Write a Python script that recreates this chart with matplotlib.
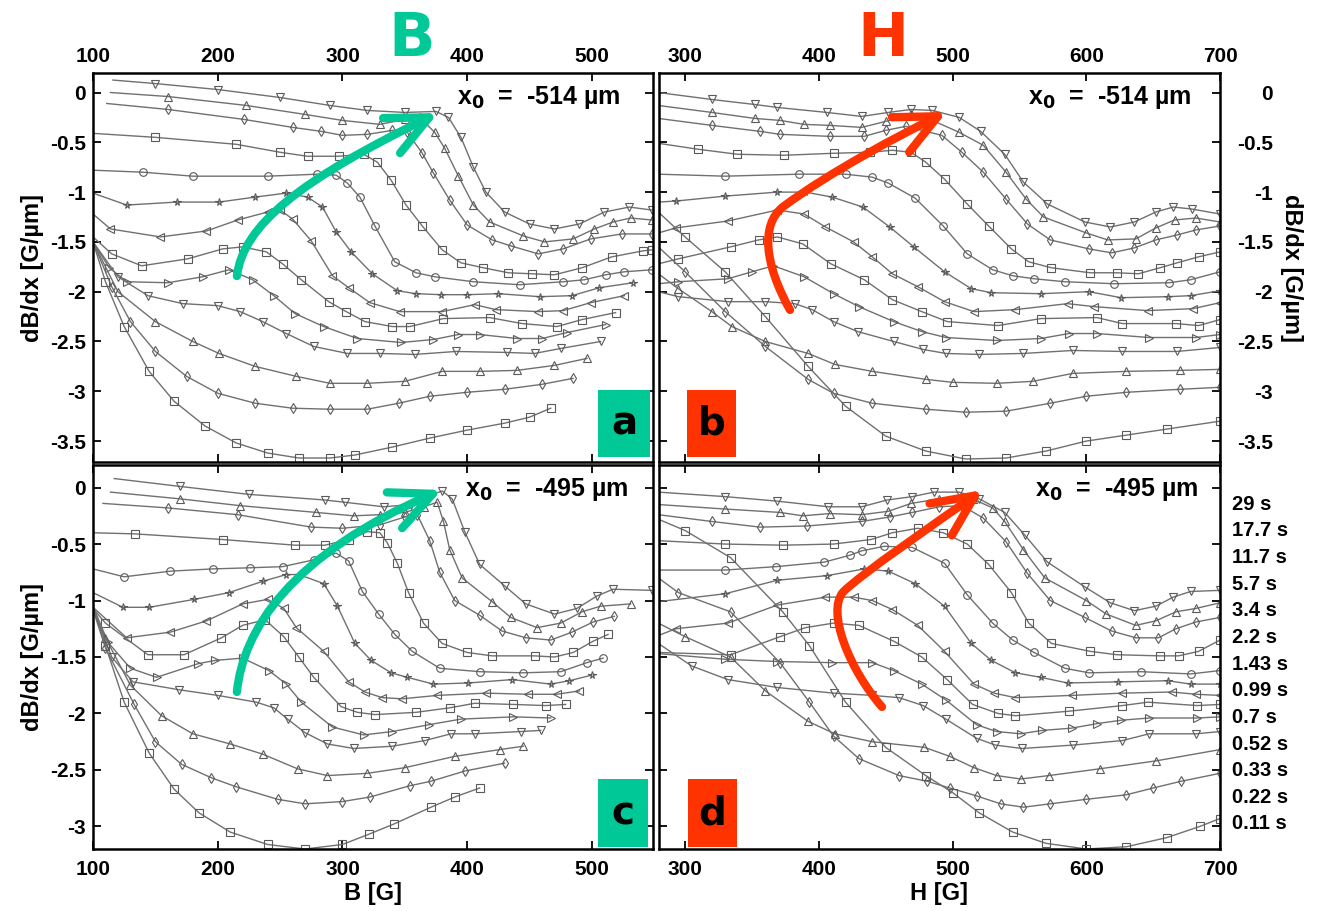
import matplotlib
matplotlib.use("Agg")
import matplotlib.pyplot as plt
from matplotlib.patches import FancyArrowPatch, Rectangle
from matplotlib.path import Path

plt.rcParams['font.family'] = ['Liberation Sans', 'DejaVu Sans']
plt.rcParams['font.weight'] = 'bold'
plt.rcParams['mathtext.default'] = 'bf'

# relaxation times, one curve per time (top -> bottom)
times = ['29 s', '17.7 s', '11.7 s', '5.7 s', '3.4 s', '2.2 s', '1.43 s',
         '0.99 s', '0.7 s', '0.52 s', '0.33 s', '0.22 s', '0.11 s']
symbols = ['v', '^', 'd', 's', 'o', '*', '<', 's', '>', 'v', '^', 'd', 's']

# (a) dB/dx vs B, x0 = -514 um
a_x = [
    [116, 150, 200, 250, 290, 320, 350, 375, 385, 395, 405, 415, 430, 450, 470, 490, 510, 530, 548],
    [114, 160, 223, 270, 300, 330, 350, 362, 374, 382, 393, 405, 418, 445, 462, 485, 502, 517, 531, 548],
    [111, 160, 221, 260, 283, 300, 320, 340, 352, 364, 373, 386, 400, 420, 435, 457, 477, 499, 524, 548],
    [100, 150, 215, 250, 272, 297, 317, 328, 339, 351, 364, 380, 395, 413, 433, 452, 470, 492, 516, 541, 548],
    [100, 140, 180, 240, 280, 295, 304, 314, 326, 342, 359, 374, 405, 442, 477, 494, 511, 526, 548],
    [100, 127, 167, 201, 230, 255, 272, 284, 295, 307, 324, 344, 359, 379, 400, 425, 458, 484, 506, 533],
    [100, 114, 154, 191, 216, 240, 250, 260, 275, 292, 305, 322, 346, 380, 406, 423, 457, 477, 499, 526],
    [100, 115, 139, 176, 204, 220, 239, 252, 267, 289, 303, 318, 340, 354, 381, 418, 444, 472, 492, 519],
    [100, 113, 127, 160, 188, 209, 228, 245, 262, 285, 312, 347, 373, 393, 410, 440, 460, 480, 511],
    [100, 120, 144, 172, 200, 218, 236, 255, 277, 304, 330, 358, 391, 432, 454, 475, 507],
    [100, 120, 150, 180, 201, 230, 263, 290, 320, 350, 380, 410, 440, 470, 496],
    [100, 115, 130, 150, 175, 200, 230, 260, 290, 320, 345, 370, 400, 430, 460, 485],
    [100, 110, 125, 145, 165, 190, 215, 240, 265, 290, 310, 340, 370, 400, 430, 450, 467],
]
a_y = [
    [0.125, 0.09, 0.03, -0.05, -0.13, -0.18, -0.2, -0.19, -0.25, -0.45, -0.75, -1.0, -1.2, -1.32, -1.37, -1.32, -1.2, -1.15, -1.18],
    [0.0, -0.04, -0.13, -0.22, -0.28, -0.32, -0.27, -0.25, -0.4, -0.56, -0.84, -1.13, -1.3, -1.44, -1.5, -1.47, -1.37, -1.3, -1.26, -1.28],
    [-0.11, -0.17, -0.27, -0.35, -0.39, -0.43, -0.42, -0.38, -0.4, -0.61, -0.81, -1.08, -1.33, -1.48, -1.54, -1.62, -1.57, -1.47, -1.42, -1.42],
    [-0.41, -0.45, -0.52, -0.6, -0.64, -0.64, -0.62, -0.7, -0.88, -1.13, -1.34, -1.58, -1.71, -1.76, -1.81, -1.82, -1.83, -1.76, -1.65, -1.59, -1.58],
    [-0.78, -0.8, -0.84, -0.84, -0.82, -0.83, -0.91, -1.05, -1.34, -1.7, -1.81, -1.85, -1.9, -1.93, -1.9, -1.88, -1.83, -1.8, -1.78],
    [-1.01, -1.13, -1.1, -1.1, -1.05, -1.01, -1.05, -1.15, -1.4, -1.6, -1.82, -1.99, -2.02, -2.03, -2.03, -2.02, -2.05, -2.04, -1.96, -1.91],
    [-1.22, -1.37, -1.45, -1.39, -1.28, -1.2, -1.18, -1.27, -1.49, -1.84, -1.96, -2.11, -2.2, -2.2, -2.13, -2.18, -2.2, -2.19, -2.11, -2.04],
    [-1.45, -1.62, -1.74, -1.67, -1.57, -1.55, -1.6, -1.72, -1.88, -2.1, -2.2, -2.3, -2.35, -2.35, -2.27, -2.26, -2.32, -2.35, -2.28, -2.21],
    [-1.5, -1.76, -1.9, -1.91, -1.85, -1.78, -1.88, -2.04, -2.22, -2.35, -2.47, -2.51, -2.48, -2.43, -2.43, -2.47, -2.47, -2.41, -2.33],
    [-1.5, -1.85, -2.04, -2.12, -2.14, -2.2, -2.3, -2.42, -2.55, -2.62, -2.62, -2.63, -2.6, -2.61, -2.62, -2.57, -2.5],
    [-1.5, -2.0, -2.3, -2.5, -2.62, -2.75, -2.85, -2.92, -2.92, -2.9, -2.8, -2.8, -2.79, -2.74, -2.67],
    [-1.5, -1.95, -2.3, -2.6, -2.85, -3.02, -3.12, -3.17, -3.18, -3.18, -3.12, -3.05, -3.01, -2.98, -2.93, -2.87],
    [-1.5, -1.9, -2.35, -2.8, -3.1, -3.35, -3.52, -3.62, -3.67, -3.67, -3.64, -3.56, -3.47, -3.39, -3.32, -3.26, -3.17],
]

# (b) dB/dx vs H, x0 = -514 um
b_x = [
    [280, 320, 352, 369, 406, 432, 452, 469, 485, 505, 521, 539, 553, 571, 599, 618, 636, 652, 665, 679, 700],
    [280, 320, 352, 371, 389, 408, 432, 450, 469, 480, 505, 523, 540, 555, 568, 600, 616, 637, 652, 666, 682, 700],
    [280, 320, 356, 371, 408, 434, 450, 465, 492, 507, 523, 540, 556, 573, 602, 619, 636, 652, 668, 682, 700],
    [280, 310, 339, 374, 411, 438, 455, 469, 480, 494, 511, 527, 544, 557, 574, 603, 623, 639, 655, 668, 684, 700],
    [280, 330, 385, 420, 440, 452, 472, 493, 511, 530, 545, 561, 584, 621, 662, 678, 700],
    [280, 293, 330, 369, 390, 410, 433, 453, 471, 494, 514, 529, 566, 602, 626, 661, 678, 700],
    [280, 293, 332, 369, 389, 405, 426, 440, 455, 474, 494, 516, 547, 586, 606, 646, 680, 700],
    [280, 295, 334, 355, 369, 388, 409, 434, 455, 477, 496, 534, 566, 608, 627, 667, 684, 700],
    [280, 295, 332, 350, 366, 389, 411, 430, 456, 477, 495, 533, 566, 587, 608, 647, 682, 700],
    [280, 295, 332, 360, 382, 395, 411, 429, 456, 478, 495, 520, 553, 590, 627, 668, 700],
    [280, 295, 320, 335, 360, 392, 412, 440, 480, 500, 533, 560, 590, 630, 670, 700],
    [280, 300, 330, 360, 392, 411, 440, 480, 510, 540, 573, 600, 630, 670, 700],
    [280, 300, 330, 360, 392, 420, 450, 480, 510, 540, 570, 600, 630, 660, 700],
]
b_y = [
    [0.0, -0.07, -0.12, -0.15, -0.2, -0.24, -0.2, -0.17, -0.18, -0.25, -0.39, -0.62, -0.9, -1.12, -1.3, -1.35, -1.3, -1.2, -1.15, -1.17, -1.22],
    [-0.13, -0.2, -0.26, -0.28, -0.32, -0.33, -0.35, -0.29, -0.22, -0.25, -0.4, -0.53, -0.8, -1.07, -1.25, -1.41, -1.48, -1.47, -1.36, -1.28, -1.26, -1.3],
    [-0.26, -0.33, -0.39, -0.42, -0.44, -0.44, -0.38, -0.34, -0.43, -0.6, -0.8, -1.07, -1.32, -1.48, -1.57, -1.61, -1.56, -1.48, -1.43, -1.38, -1.34],
    [-0.51, -0.57, -0.62, -0.63, -0.61, -0.6, -0.58, -0.6, -0.7, -0.87, -1.12, -1.34, -1.57, -1.7, -1.76, -1.81, -1.81, -1.82, -1.76, -1.71, -1.65, -1.6],
    [-0.82, -0.84, -0.82, -0.82, -0.85, -0.91, -1.06, -1.34, -1.62, -1.78, -1.84, -1.87, -1.9, -1.92, -1.91, -1.88, -1.8],
    [-1.1, -1.09, -1.04, -1.0, -1.0, -1.05, -1.15, -1.35, -1.55, -1.8, -1.97, -2.01, -2.02, -2.0, -2.06, -2.05, -2.04, -1.99],
    [-1.41, -1.36, -1.29, -1.18, -1.22, -1.35, -1.5, -1.65, -1.82, -1.95, -2.1, -2.2, -2.18, -2.12, -2.15, -2.19, -2.17, -2.11],
    [-1.72, -1.67, -1.55, -1.48, -1.45, -1.52, -1.72, -1.88, -2.08, -2.2, -2.3, -2.34, -2.27, -2.26, -2.32, -2.32, -2.34, -2.28],
    [-1.92, -1.9, -1.87, -1.8, -1.74, -1.85, -2.02, -2.15, -2.3, -2.4, -2.46, -2.49, -2.47, -2.42, -2.42, -2.46, -2.46, -2.43],
    [-2.0, -2.05, -2.1, -2.1, -2.12, -2.18, -2.3, -2.4, -2.5, -2.58, -2.62, -2.63, -2.62, -2.59, -2.6, -2.6, -2.56],
    [-1.82, -1.97, -2.2, -2.35, -2.5, -2.62, -2.73, -2.8, -2.88, -2.91, -2.92, -2.9, -2.82, -2.8, -2.79, -2.78],
    [-1.55, -1.8, -2.2, -2.55, -2.88, -3.02, -3.12, -3.18, -3.21, -3.2, -3.12, -3.05, -3.01, -2.98, -2.96],
    [-1.2, -1.45, -1.8, -2.25, -2.75, -3.15, -3.45, -3.6, -3.68, -3.67, -3.6, -3.5, -3.44, -3.38, -3.3],
]

# (c) dB/dx vs B, x0 = -495 um
c_x = [
    [117, 170, 225, 286, 302, 333, 355, 370, 380, 388, 398, 410, 430, 447, 470, 488, 504, 517, 548],
    [114, 170, 218, 279, 309, 330, 350, 365, 376, 381, 386, 396, 420, 435, 456, 475, 492, 507, 531],
    [108, 160, 216, 275, 300, 330, 350, 360, 370, 378, 390, 410, 428, 447, 467, 484, 501, 518],
    [100, 134, 204, 262, 286, 305, 320, 330, 336, 344, 353, 365, 380, 400, 420, 454, 470, 485, 501, 513],
    [100, 125, 162, 196, 226, 252, 277, 295, 305, 316, 329, 342, 356, 378, 410, 445, 475, 496, 509],
    [100, 124, 145, 181, 209, 236, 255, 265, 285, 296, 310, 323, 339, 352, 373, 401, 436, 467, 482, 500],
    [100, 127, 162, 191, 220, 240, 253, 263, 285, 305, 318, 332, 348, 376, 415, 449, 472, 490],
    [100, 110, 144, 173, 203, 220, 238, 253, 265, 277, 299, 312, 326, 359, 386, 406, 437, 463, 479],
    [100, 112, 130, 151, 184, 198, 220, 241, 255, 267, 292, 317, 340, 369, 395, 437, 467],
    [100, 115, 132, 169, 200, 231, 245, 256, 270, 288, 309, 340, 366, 387, 406, 443, 459],
    [100, 110, 130, 155, 180, 210, 236, 264, 288, 320, 350, 390, 426, 445],
    [100, 110, 133, 150, 171, 195, 215, 248, 270, 300, 322, 354, 371, 398, 430],
    [100, 110, 125, 145, 165, 185, 210, 240, 270, 300, 321, 341, 371, 390, 410],
]
c_y = [
    [0.08, 0.01, -0.06, -0.11, -0.13, -0.17, -0.15, -0.07, -0.03, -0.1, -0.39, -0.68, -0.87, -1.03, -1.12, -1.07, -0.96, -0.9, -0.91],
    [-0.04, -0.1, -0.16, -0.22, -0.25, -0.24, -0.22, -0.17, -0.13, -0.3, -0.55, -0.8, -1.01, -1.15, -1.24, -1.2, -1.1, -1.05, -1.03],
    [-0.14, -0.18, -0.24, -0.35, -0.36, -0.33, -0.26, -0.24, -0.47, -0.75, -1.0, -1.13, -1.27, -1.33, -1.35, -1.28, -1.19, -1.14],
    [-0.4, -0.41, -0.46, -0.51, -0.51, -0.46, -0.39, -0.4, -0.49, -0.67, -0.93, -1.2, -1.38, -1.46, -1.49, -1.49, -1.5, -1.46, -1.36, -1.3],
    [-0.72, -0.79, -0.74, -0.72, -0.71, -0.7, -0.64, -0.58, -0.65, -0.92, -1.12, -1.3, -1.45, -1.6, -1.63, -1.64, -1.63, -1.55, -1.51],
    [-0.93, -1.06, -1.06, -0.99, -0.93, -0.83, -0.77, -0.77, -0.85, -1.05, -1.38, -1.53, -1.64, -1.68, -1.74, -1.73, -1.7, -1.74, -1.71, -1.66],
    [-1.06, -1.33, -1.28, -1.18, -1.03, -0.99, -1.07, -1.24, -1.45, -1.72, -1.81, -1.86, -1.87, -1.84, -1.82, -1.83, -1.83, -1.8],
    [-1.07, -1.2, -1.48, -1.48, -1.33, -1.22, -1.17, -1.32, -1.5, -1.68, -1.94, -1.99, -2.01, -1.99, -1.95, -1.91, -1.92, -1.93, -1.92],
    [-1.05, -1.37, -1.6, -1.68, -1.56, -1.53, -1.51, -1.62, -1.74, -1.9, -2.12, -2.19, -2.16, -2.1, -2.05, -2.03, -2.04],
    [-1.07, -1.5, -1.72, -1.79, -1.84, -1.9, -1.95, -2.05, -2.17, -2.27, -2.31, -2.29, -2.24, -2.18, -2.18, -2.16, -2.15],
    [-1.08, -1.33, -1.75, -2.02, -2.18, -2.27, -2.36, -2.49, -2.55, -2.53, -2.48, -2.38, -2.32, -2.29],
    [-1.08, -1.42, -1.92, -2.25, -2.45, -2.57, -2.65, -2.76, -2.8, -2.78, -2.74, -2.64, -2.6, -2.51, -2.44],
    [-1.05, -1.4, -1.9, -2.35, -2.67, -2.88, -3.05, -3.16, -3.2, -3.16, -3.07, -2.98, -2.83, -2.74, -2.66],
]

# (d) dB/dx vs H, x0 = -495 um
d_x = [
    [280, 330, 369, 407, 432, 451, 470, 486, 505, 520, 539, 554, 571, 599, 618, 636, 652, 665, 678, 700],
    [280, 330, 371, 388, 408, 432, 452, 469, 490, 515, 530, 539, 553, 569, 600, 615, 637, 652, 667, 682, 700],
    [280, 320, 356, 391, 432, 453, 470, 490, 507, 523, 540, 556, 573, 599, 619, 637, 654, 667, 682, 700],
    [280, 330, 373, 411, 439, 455, 474, 493, 511, 527, 544, 557, 574, 603, 623, 655, 669, 684, 700],
    [280, 330, 368, 404, 423, 432, 449, 470, 494, 511, 530, 545, 561, 584, 602, 641, 678, 700],
    [280, 330, 369, 406, 434, 452, 472, 494, 514, 529, 547, 566, 586, 624, 661, 678, 700],
    [280, 293, 332, 369, 405, 426, 440, 455, 474, 494, 516, 531, 547, 589, 627, 664, 682, 700],
    [280, 334, 371, 390, 411, 430, 456, 477, 496, 515, 534, 547, 587, 627, 646, 683, 700],
    [280, 330, 369, 410, 440, 456, 477, 495, 518, 533, 551, 567, 589, 608, 626, 647, 683, 700],
    [280, 305, 332, 369, 411, 440, 460, 478, 495, 518, 532, 552, 590, 627, 647, 682, 700],
    [280, 300, 334, 360, 392, 412, 440, 479, 498, 516, 533, 551, 572, 610, 652, 700],
    [280, 295, 334, 371, 393, 411, 430, 460, 481, 498, 518, 536, 553, 573, 600, 630, 650, 671, 700],
    [280, 300, 334, 373, 393, 420, 450, 480, 500, 520, 545, 570, 600, 630, 660, 685, 700],
]
d_y = [
    [-0.04, -0.08, -0.12, -0.17, -0.17, -0.11, -0.08, -0.04, -0.04, -0.1, -0.22, -0.42, -0.66, -0.88, -1.02, -1.09, -1.05, -0.97, -0.92, -0.91],
    [-0.15, -0.19, -0.22, -0.25, -0.23, -0.24, -0.21, -0.14, -0.1, -0.1, -0.18, -0.3, -0.55, -0.8, -1.0, -1.12, -1.22, -1.18, -1.1, -1.07, -1.02],
    [-0.24, -0.3, -0.35, -0.34, -0.3, -0.26, -0.22, -0.17, -0.16, -0.27, -0.48, -0.76, -1.0, -1.15, -1.27, -1.33, -1.33, -1.25, -1.19, -1.15],
    [-0.47, -0.5, -0.51, -0.5, -0.46, -0.4, -0.36, -0.4, -0.5, -0.68, -0.93, -1.2, -1.38, -1.45, -1.48, -1.49, -1.49, -1.45, -1.35],
    [-0.73, -0.73, -0.7, -0.66, -0.6, -0.56, -0.52, -0.53, -0.67, -0.95, -1.2, -1.35, -1.46, -1.6, -1.64, -1.63, -1.65, -1.62],
    [-1.01, -0.94, -0.82, -0.78, -0.72, -0.74, -0.85, -1.05, -1.38, -1.53, -1.64, -1.68, -1.73, -1.72, -1.71, -1.74, -1.74],
    [-1.31, -1.25, -1.2, -1.04, -0.97, -0.97, -1.0, -1.08, -1.22, -1.45, -1.74, -1.82, -1.86, -1.84, -1.82, -1.81, -1.83, -1.84],
    [-1.46, -1.48, -1.32, -1.24, -1.2, -1.22, -1.36, -1.5, -1.7, -1.92, -2.0, -2.02, -1.98, -1.93, -1.9, -1.93, -1.92],
    [-1.47, -1.52, -1.54, -1.55, -1.55, -1.62, -1.74, -1.88, -2.1, -2.16, -2.18, -2.15, -2.13, -2.09, -2.06, -2.04, -2.04, -2.03],
    [-1.38, -1.58, -1.7, -1.77, -1.82, -1.84, -1.86, -1.93, -2.05, -2.22, -2.28, -2.31, -2.28, -2.24, -2.18, -2.18, -2.16],
    [-1.2, -1.32, -1.5, -1.8, -2.07, -2.18, -2.25, -2.3, -2.38, -2.48, -2.55, -2.58, -2.55, -2.49, -2.42, -2.32],
    [-0.8, -0.93, -1.1, -1.55, -1.9, -2.2, -2.4, -2.55, -2.6, -2.66, -2.73, -2.8, -2.83, -2.8, -2.76, -2.72, -2.66, -2.6, -2.53],
    [-0.28, -0.38, -0.62, -1.1, -1.4, -1.9, -2.3, -2.55, -2.7, -2.88, -3.05, -3.15, -3.2, -3.18, -3.1, -3.0, -2.93],
]

B_ticks = [100, 200, 300, 400, 500]
H_ticks = [300, 400, 500, 600, 700]
top_yticks = [0, -0.5, -1, -1.5, -2, -2.5, -3, -3.5]
bot_yticks = [0, -0.5, -1, -1.5, -2, -2.5, -3]

TEAL = '#00c896'
RED = '#ff3300'
LINE = '#707070'


def fmt(v):
    return '0' if v == 0 else ('%g' % v)


def draw_curves(ax, xs, ys):
    for x, y, m in zip(xs, ys, symbols):
        ax.plot(x, y, '-', color=LINE, lw=1.0, marker=m, ms=5.5, mfc='none',
                mec='#5a5a5a', mew=0.8, markevery=slice(1, None))


def style(ax, xlim, ylim, xticks, yticks):
    ax.set_xlim(*xlim)
    ax.set_ylim(*ylim)
    ax.set_xticks(xticks)
    ax.set_xticklabels([str(t) for t in xticks])
    ax.set_yticks(yticks)
    ax.set_yticklabels([fmt(t) for t in yticks])
    ax.tick_params(axis='both', direction='in', length=6, width=1.3,
                   top=True, right=True, left=True, bottom=True, labelsize=15)
    for s in ax.spines.values():
        s.set_linewidth(1.8)


def curved_arrow(ax, verts, color):
    codes = [Path.MOVETO] + [Path.CURVE4] * (len(verts) - 1)
    arr = FancyArrowPatch(path=Path(verts, codes),
                          arrowstyle='->,head_length=30,head_width=14',
                          mutation_scale=1, lw=6, color=color,
                          transform=ax.transAxes, zorder=5)
    ax.add_patch(arr)


def letter_box(ax, x0, y0, w, h, letter, color):
    ax.add_patch(Rectangle((x0, y0), w, h, transform=ax.transAxes,
                           facecolor=color, edgecolor='none', zorder=6))
    ax.text(x0 + w / 2, y0 + h / 2, letter, transform=ax.transAxes,
            ha='center', va='center', fontsize=28, fontweight='bold',
            family='DejaVu Sans', zorder=7)


fig = plt.figure(figsize=(13.24, 9.11), dpi=100)
W, H = 1324.0, 911.0
ax_a = fig.add_axes([93 / W, 1 - 462 / H, 560 / W, 389 / H])
ax_b = fig.add_axes([659 / W, 1 - 462 / H, 561 / W, 389 / H])
ax_c = fig.add_axes([93 / W, 1 - 849 / H, 560 / W, 384 / H])
ax_d = fig.add_axes([659 / W, 1 - 849 / H, 561 / W, 384 / H])

draw_curves(ax_a, a_x, a_y)
draw_curves(ax_b, b_x, b_y)
draw_curves(ax_c, c_x, c_y)
draw_curves(ax_d, d_x, d_y)

style(ax_a, (100, 549), (-3.71, 0.196), B_ticks, top_yticks)
style(ax_b, (280.5, 700), (-3.71, 0.196), H_ticks, top_yticks)
style(ax_c, (100, 549), (-3.2, 0.2), B_ticks, bot_yticks)
style(ax_d, (280.5, 700), (-3.2, 0.2), H_ticks, bot_yticks)

ax_a.tick_params(labeltop=True, labelbottom=False, labelleft=True, labelright=False, pad=5)
ax_b.tick_params(labeltop=True, labelbottom=False, labelleft=False, labelright=True, pad=5)
ax_b.tick_params(axis='y', pad=38)
for t in ax_b.get_yticklabels():
    t.set_horizontalalignment('right')
ax_c.tick_params(labeltop=False, labelbottom=True, labelleft=True, labelright=False)
ax_c.tick_params(axis='x', pad=8)
ax_c.tick_params(axis='y', pad=5)
ax_d.tick_params(labeltop=False, labelbottom=True, labelleft=False, labelright=False)
ax_d.tick_params(axis='x', pad=8)

ylab = 'dB/dx [G/\u00b5m]'
ax_a.set_ylabel(ylab, fontsize=17, fontweight='bold', labelpad=4)
ax_c.set_ylabel(ylab, fontsize=17, fontweight='bold', labelpad=4)
ax_b.yaxis.set_label_position('right')
ax_b.set_ylabel(ylab, fontsize=17, fontweight='bold', rotation=270, labelpad=22)
ax_c.set_xlabel('B [G]', fontsize=17, fontweight='bold', labelpad=2)
ax_d.set_xlabel('H [G]', fontsize=17, fontweight='bold', labelpad=2)

for ax, txt, xx, yy in [(ax_a, '-514', 0.650, 0.938), (ax_b, '-514', 0.658, 0.938),
                        (ax_c, '-495', 0.664, 0.935), (ax_d, '-495', 0.670, 0.935)]:
    ax.text(xx, yy, 'x$_0$  =  %s \u00b5m' % txt, transform=ax.transAxes,
            ha='left', va='center', fontsize=18, fontweight='bold', zorder=8)

# time legend on the right of panel d
for i, t in enumerate(times):
    ax_d.text(1.021, 0.898 - i * 0.0694, t, transform=ax_d.transAxes,
              ha='left', va='center', fontsize=14.5, fontweight='bold')

# arrows
curved_arrow(ax_a, [(0.257, 0.478), (0.268, 0.609), (0.370, 0.725), (0.616, 0.897)], TEAL)
curved_arrow(ax_c, [(0.257, 0.409), (0.268, 0.570), (0.352, 0.766), (0.623, 0.935)], TEAL)
curved_arrow(ax_b, [(0.2335, 0.391), (0.189, 0.506), (0.180, 0.609), (0.221, 0.656),
                    (0.305, 0.746), (0.430, 0.841), (0.513, 0.900)], RED)
curved_arrow(ax_d, [(0.3975, 0.370), (0.340, 0.466), (0.298, 0.617), (0.328, 0.669),
                    (0.358, 0.714), (0.501, 0.857), (0.5775, 0.935)], RED)

letter_box(ax_a, 0.902, 0.013, 0.093, 0.172, 'a', TEAL)
letter_box(ax_b, 0.050, 0.013, 0.087, 0.172, 'b', RED)
letter_box(ax_c, 0.902, 0.005, 0.089, 0.177, 'c', TEAL)
letter_box(ax_d, 0.052, 0.005, 0.087, 0.177, 'd', RED)

fig.text(412 / W, 1 - 40 / H, 'B', color=TEAL, fontsize=44, fontweight='bold',
         family='DejaVu Sans', ha='center', va='center')
fig.text(883 / W, 1 - 40 / H, 'H', color=RED, fontsize=44, fontweight='bold',
         family='DejaVu Sans', ha='center', va='center')

fig.savefig('out.png', dpi=100)
